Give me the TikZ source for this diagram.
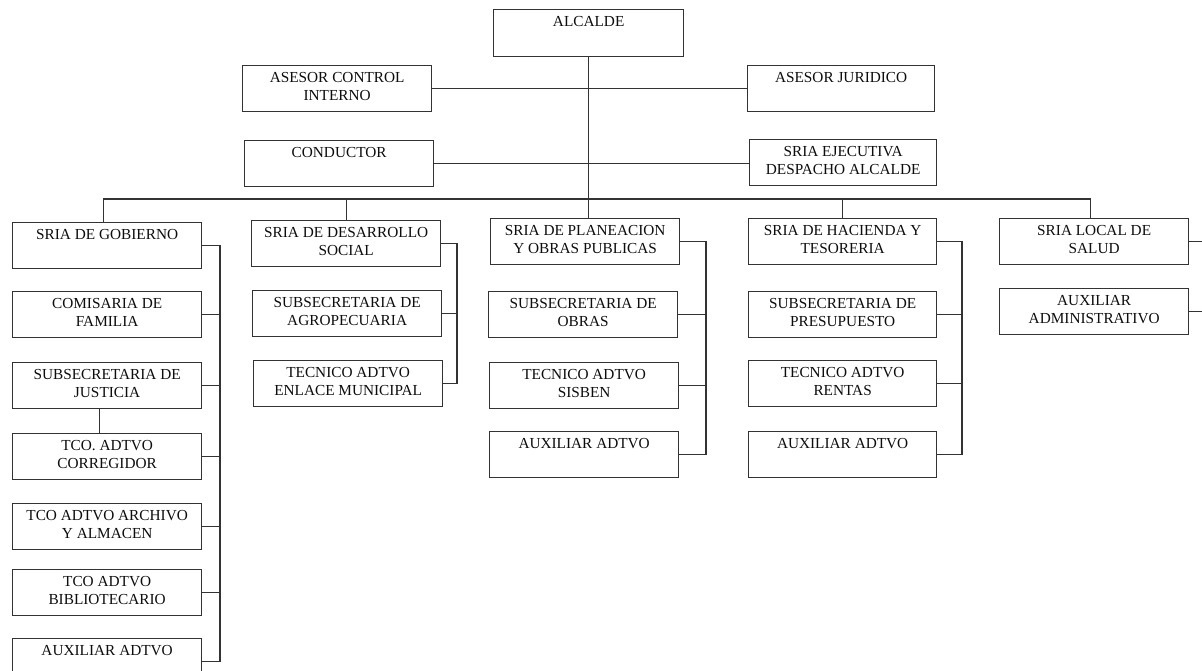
\documentclass[tikz,border=0pt]{standalone}
\usepackage{fontspec}
\setmainfont{Liberation Serif}
\usetikzlibrary{calc}
\definecolor{linec}{gray}{0.2}
\definecolor{textc}{gray}{0.05}
\begin{document}
\begin{tikzpicture}[x=1pt,y=-1pt,
  box/.style={draw=linec, line width=1.3pt, minimum width=189pt, minimum height=46pt,
    inner sep=0pt, anchor=north west},
  lab/.style={anchor=north, align=center, text=textc, inner sep=0pt, yshift=-7pt,
    font=\fontsize{15.3}{18}\selectfont},
  conn/.style={draw=linec, line width=1.3pt}]
\useasboundingbox (0,0) rectangle (1202,671);
\clip (0,0) rectangle (1202,671);
% top
\node[box, minimum width=190pt, minimum height=47pt, label={[lab]north:ALCALDE}] (alc) at (493,9) {};
\node[box, label={[lab]north:ASESOR CONTROL\\INTERNO}] (aci) at (242,65) {};
\node[box, minimum width=187pt, label={[lab]north:ASESOR JURIDICO}] (aju) at (747,65) {};
\node[box, label={[lab]north:CONDUCTOR}] (con) at (244,140) {};
\node[box, minimum width=187pt, label={[lab]north:SRIA EJECUTIVA\\DESPACHO ALCALDE}] (sej) at (749,139) {};
% column 1
\node[box, label={[lab]north:SRIA DE GOBIERNO}] (gob) at (12,222) {};
\node[box, label={[lab]north:COMISARIA DE\\FAMILIA}] (com) at (12,291) {};
\node[box, label={[lab]north:SUBSECRETARIA DE\\JUSTICIA}] (jus) at (12,362) {};
\node[box, label={[lab]north:TCO. ADTVO\\CORREGIDOR}] (cor) at (12,433) {};
\node[box, label={[lab]north:TCO ADTVO ARCHIVO\\Y ALMACEN}] (arc) at (12,503) {};
\node[box, label={[lab]north:TCO ADTVO\\BIBLIOTECARIO}] (bib) at (12,569) {};
\node[box, label={[lab]north:AUXILIAR ADTVO}] (aux1) at (12,638) {};
% column 2
\node[box, label={[lab]north:SRIA DE DESARROLLO\\SOCIAL}] (des) at (251,220) {};
\node[box, label={[lab]north:SUBSECRETARIA DE\\AGROPECUARIA}] (agr) at (252,290) {};
\node[box, label={[lab]north:TECNICO ADTVO\\ENLACE MUNICIPAL}] (enl) at (253,360) {};
% column 3
\node[box, label={[lab]north:SRIA DE PLANEACION\\Y OBRAS PUBLICAS}] (pla) at (490,218) {};
\node[box, label={[lab]north:SUBSECRETARIA DE\\OBRAS}] (obr) at (488,291) {};
\node[box, label={[lab]north:TECNICO ADTVO\\SISBEN}] (sis) at (489,362) {};
\node[box, label={[lab]north:AUXILIAR ADTVO}] (aux3) at (489,431) {};
% column 4
\node[box, minimum width=188pt, label={[lab]north:SRIA DE HACIENDA Y\\TESORERIA}] (hac) at (748,218) {};
\node[box, minimum width=188pt, label={[lab]north:SUBSECRETARIA DE\\PRESUPUESTO}] (pre) at (748,291) {};
\node[box, minimum width=188pt, label={[lab]north:TECNICO ADTVO\\RENTAS}] (ren) at (748,360) {};
\node[box, minimum width=188pt, label={[lab]north:AUXILIAR ADTVO}] (aux4) at (748,431) {};
% column 5
\node[box, label={[lab]north:SRIA LOCAL DE\\SALUD}] (sal) at (999,218) {};
\node[box, label={[lab]north:AUXILIAR\\ADMINISTRATIVO}] (adm) at (999,288) {};
% helper coordinates
\coordinate (bar) at (0,199);
\coordinate (r1) at (220,0);
\coordinate (r2) at (457,0);
\coordinate (r3) at (706,0);
\coordinate (r4) at (962,0);
\coordinate (r5) at (1214,0);
% top connectors
\draw[conn] (alc.south) -- (alc.south |- pla.north);
\draw[conn] (aci.east) -- (aci.east -| aju.west);
\draw[conn] (con.east) -- (con.east -| sej.west);
\draw[conn] ([xshift=-4pt]gob.north) -- ([xshift=-4pt]gob.north |- bar) -- ([xshift=-4pt]sal.north |- bar) -- ([xshift=-4pt]sal.north);
\draw[conn] (des.north) -- (des.north |- bar);
\draw[conn] (hac.north) -- (hac.north |- bar);
% column 1
\draw[conn] (gob.east) -- (gob.east -| r1) -- (aux1.east -| r1) -- (aux1.east);
\foreach \n in {com,jus,cor,arc,bib} \draw[conn] (\n.east) -- (\n.east -| r1);
\draw[conn] ([xshift=-8pt]jus.south) -- ([xshift=-8pt]cor.north);
% column 2
\draw[conn] (des.east) -- (des.east -| r2) -- (enl.east -| r2) -- (enl.east);
\draw[conn] (agr.east) -- (agr.east -| r2);
% column 3
\draw[conn] (pla.east) -- (pla.east -| r3) -- (aux3.east -| r3) -- (aux3.east);
\foreach \n in {obr,sis} \draw[conn] (\n.east) -- (\n.east -| r3);
% column 4
\draw[conn] (hac.east) -- (hac.east -| r4) -- (aux4.east -| r4) -- (aux4.east);
\foreach \n in {pre,ren} \draw[conn] (\n.east) -- (\n.east -| r4);
% column 5
\draw[conn] (sal.east) -- (sal.east -| r5) -- (adm.east -| r5) -- (adm.east);
\end{tikzpicture}
\end{document}
